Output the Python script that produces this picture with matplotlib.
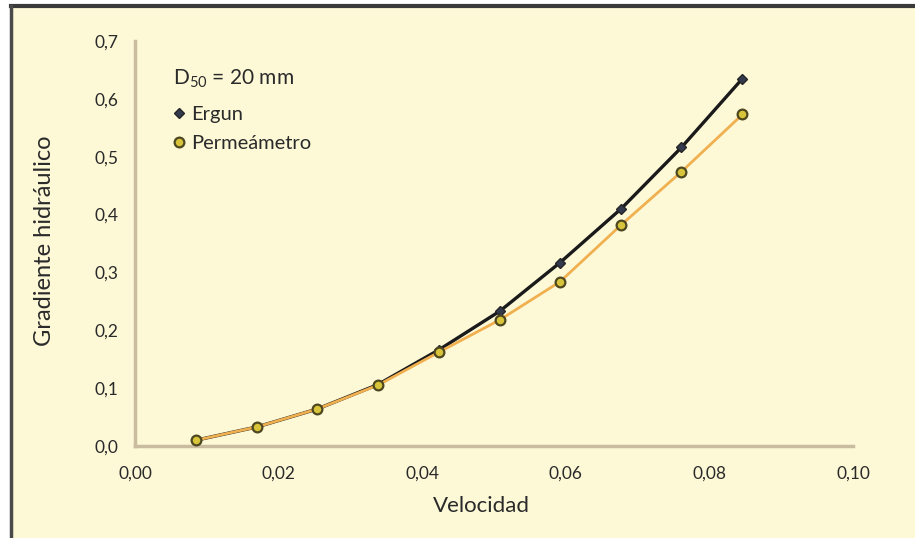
import matplotlib
matplotlib.use("Agg")
import matplotlib.pyplot as plt
from matplotlib.patches import Rectangle
from matplotlib.lines import Line2D

plt.rcParams['font.family'] = ['Lato', 'DejaVu Sans']
plt.rcParams['mathtext.fontset'] = 'custom'
plt.rcParams['mathtext.rm'] = 'Lato'
plt.rcParams['mathtext.it'] = 'Lato'

# datos
velocidad = [0.0085, 0.0170, 0.0254, 0.0338, 0.0423, 0.0508, 0.0592, 0.0677, 0.0761, 0.0846]
ergun = [0.010, 0.033, 0.064, 0.106, 0.166, 0.233, 0.317, 0.410, 0.516, 0.635]
permeametro = [0.010, 0.033, 0.064, 0.105, 0.162, 0.218, 0.284, 0.382, 0.474, 0.573]

xticks = [0.00, 0.02, 0.04, 0.06, 0.08, 0.10]
yticks = [0.0, 0.1, 0.2, 0.3, 0.4, 0.5, 0.6, 0.7]

W, H = 915, 538
fig = plt.figure(figsize=(W / 100, H / 100), dpi=100, facecolor="white")

# fondo crema con borde oscuro arriba e izquierda
fig.patches.append(Rectangle((11 / W, 0), 1, 1 - 6 / H, transform=fig.transFigure,
                             facecolor="#FDF9D7", edgecolor="none", zorder=-2))
fig.lines.append(Line2D([11 / W, 1], [1 - 6 / H, 1 - 6 / H], transform=fig.transFigure,
                        color="#3a3a3a", lw=3))
fig.lines.append(Line2D([11 / W, 11 / W], [0, 1 - 6 / H], transform=fig.transFigure,
                        color="#4a4a4a", lw=2.5))

ax = fig.add_axes([135 / W, 92 / H, (853 - 135) / W, (497 - 92) / H])
ax.set_facecolor("none")

ax.plot(velocidad, ergun, color="#1a1a1a", lw=2.4, marker="D", ms=5.5,
        mfc="#333a4e", mec="#262626", mew=1, label="Ergun", zorder=3)
ax.plot(velocidad, permeametro, color="#F0B050", lw=2, marker="o", ms=7,
        mfc="#D8C43A", mec="#4d4720", mew=1.6, label="Permeámetro", zorder=4)

ax.set_xlim(0, 0.10)
ax.set_ylim(0, 0.7)
ax.set_xticks(xticks)
ax.set_yticks(yticks)
ax.set_xticklabels([f"{t:.2f}".replace(".", ",") for t in xticks])
ax.set_yticklabels([f"{t:.1f}".replace(".", ",") for t in yticks])
ax.tick_params(length=0, labelsize=12.5, colors="#2a2a2a", pad=12)
ax.tick_params(axis="x", pad=14)

for s in ["top", "right"]:
    ax.spines[s].set_visible(False)
for s in ["left", "bottom"]:
    ax.spines[s].set_color("#C9BC9F")
    ax.spines[s].set_linewidth(2.5)

fig.text(481 / W, 1 - 506 / H, "Velocidad", ha="center", va="center",
         fontsize=16, color="#2a2a2a")
fig.text(45 / W, 1 - 241 / H, "Gradiente hidráulico", ha="center", va="center",
         rotation=90, fontsize=17, color="#2a2a2a")

leg = ax.legend(loc="upper left", bbox_to_anchor=(173 / W, 1 - 68 / H),
                bbox_transform=fig.transFigure, frameon=False,
                title=r"D$_{50}$ = 20 mm", alignment="left", fontsize=14.5,
                title_fontproperties={"size": 15}, handlelength=0.55,
                handletextpad=0.35, labelspacing=0.6, borderpad=0,
                borderaxespad=0)
leg._legend_box.sep = 11
for h in leg.legend_handles:
    h.set_linestyle("none")
for t in leg.get_texts():
    t.set_color("#2a2a2a")
leg.get_title().set_color("#2a2a2a")

fig.savefig("out.png", dpi=100, facecolor="white")
